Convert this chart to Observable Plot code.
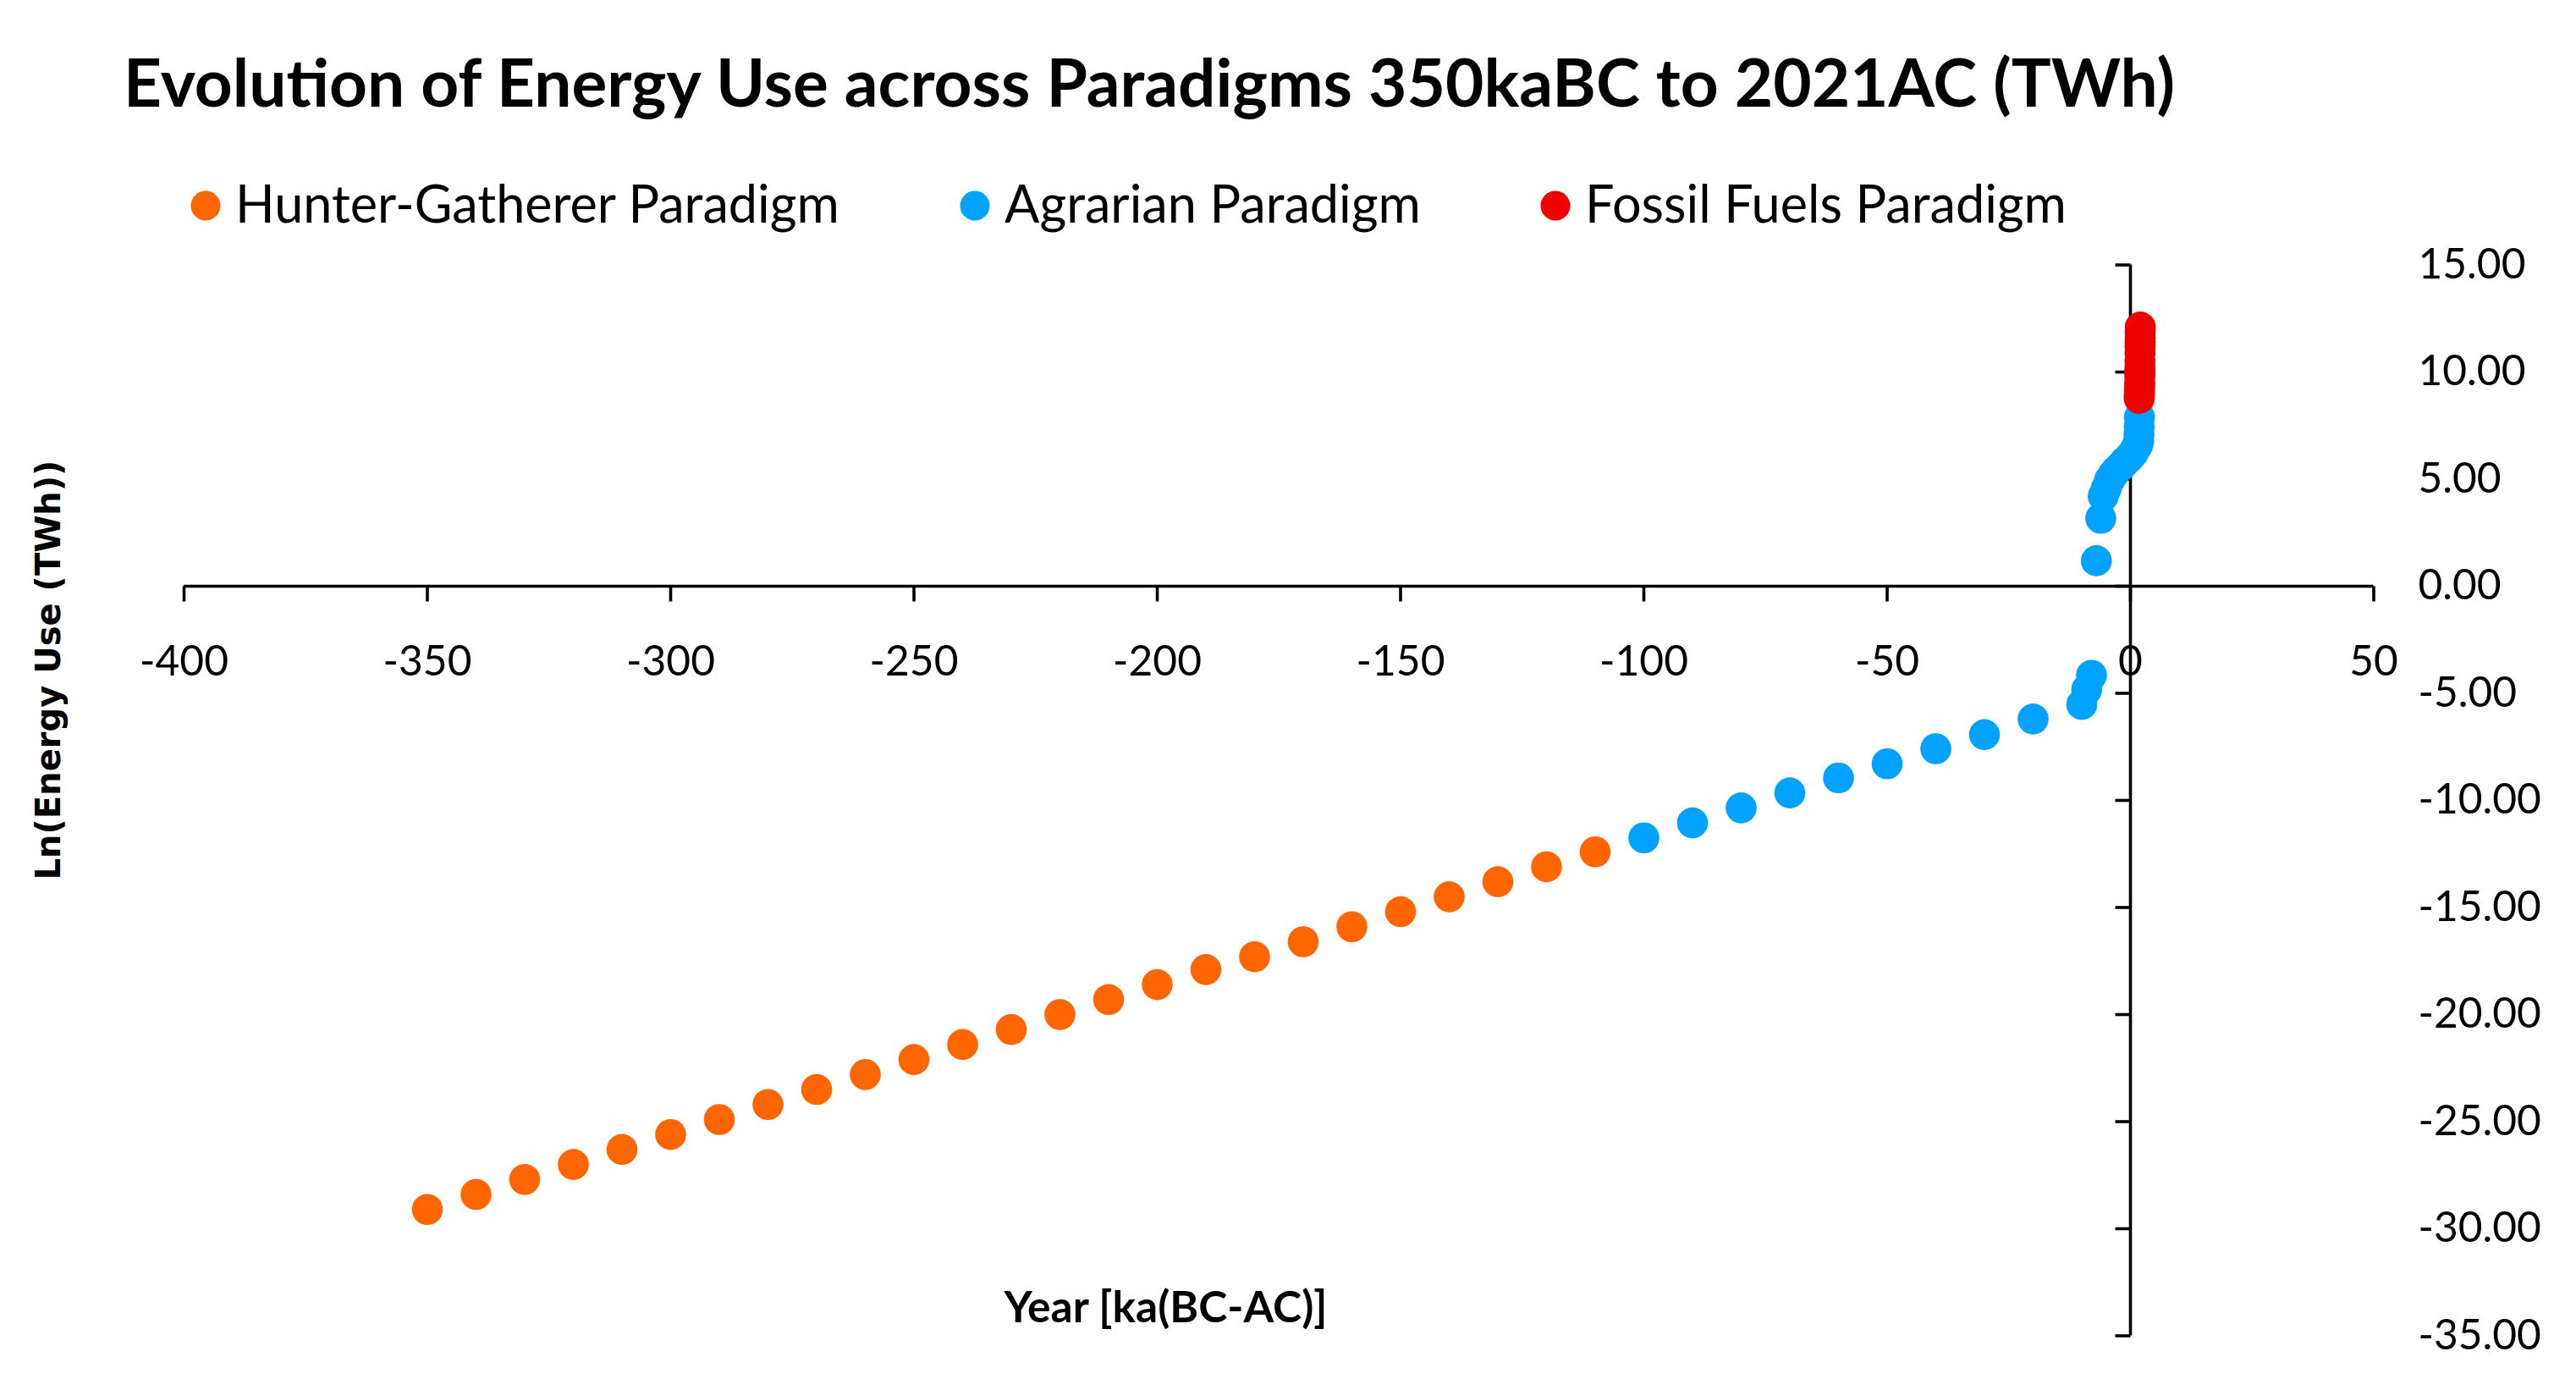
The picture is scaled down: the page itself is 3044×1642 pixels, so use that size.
<!DOCTYPE html>
<html>
<head>
<meta charset="utf-8">
<script src="https://cdn.jsdelivr.net/npm/d3@7"></script>
<script src="https://cdn.jsdelivr.net/npm/@observablehq/plot@0.6"></script>
<style>
  html, body { margin: 0; padding: 0; background: #fff; }
  svg { display: block; }
</style>
</head>
<body>
<div id="chart"></div>
<script>
// ---------------- DATA ----------------
const titleText = "Evolution of Energy Use across Paradigms 350kaBC to 2021AC (TWh)";
const xTitle = "Year [ka(BC-AC)]";
const yTitle = "Ln(Energy Use (TWh))";

const series = ["Hunter-Gatherer Paradigm", "Agrarian Paradigm", "Fossil Fuels Paradigm"];
const seriesColors = ["#FF6600", "#00A2FF", "#EE0000"];

const xTicks = [-400, -350, -300, -250, -200, -150, -100, -50, 0, 50];
const yTicks = [15, 10, 5, 0, -5, -10, -15, -20, -25, -30, -35];

const hunterYear = [-350, -340, -330, -320, -310, -300, -290, -280, -270, -260, -250, -240, -230,
                    -220, -210, -200, -190, -180, -170, -160, -150, -140, -130, -120, -110];
const hunterLn = [-29.1, -28.4, -27.7, -27.0, -26.3, -25.6, -24.9, -24.2, -23.5, -22.8, -22.1, -21.4, -20.7,
                  -20.0, -19.3, -18.6, -17.9, -17.3, -16.6, -15.9, -15.2, -14.5, -13.8, -13.1, -12.4];

const agrarianYear = [-100, -90, -80, -70, -60, -50, -40, -30, -20, -10, -9, -8,
                      -7, -6.1, -5.6, -5, -4.3, -3.6, -2.9, -2, -1.2, -0.3, 0.5, 1, 1.5, 1.7, 1.75, 1.8, 1.85];
const agrarianLn = [-11.75, -11.05, -10.35, -9.65, -8.95, -8.29, -7.59, -6.93, -6.2, -5.52, -4.83, -4.16,
                    1.19, 3.17, 4.2, 4.55, 4.95, 5.2, 5.4, 5.6, 5.8, 6.0, 6.2, 6.4, 6.6, 6.8, 7.1, 7.45, 7.9];

const fossilYear = [1.80, 1.82, 1.84, 1.86, 1.88, 1.90, 1.92, 1.94, 1.95, 1.96, 1.97, 1.98, 1.99, 2.00, 2.01, 2.021];
const fossilLn = [8.77, 8.85, 8.95, 9.1, 9.3, 9.5, 9.8, 10.0, 10.2, 10.5, 10.9, 11.2, 11.4, 11.6, 11.9, 12.1];

// ---------------- LAYOUT ----------------
const W = 3044, PAGE_H = 1642, HEADER_H = 280;
const H = PAGE_H - HEADER_H;
const FRAME = {left: 217, right: 2804.5, top: 312.5, bottom: 1577.5}; // page px
const marginLeft = FRAME.left, marginRight = W - FRAME.right;
const marginTop = FRAME.top - HEADER_H, marginBottom = PAGE_H - FRAME.bottom;

const measure = (() => {
  const c = document.createElement("canvas").getContext("2d");
  return (text, font) => { c.font = font; return c.measureText(text).width; };
})();
const fitSize = (text, weight, family, target) => 100 * target / measure(text, `${weight} 100px ${family}`);

const titleSize = fitSize(titleText, 700, "Lato", 2428);
const legendWidths = [717, 494, 565];
const legendSize = d3.mean(series, (s, i) => fitSize(s, 400, "Lato", legendWidths[i]));
const tickFont = fitSize("15.00", 400, "Lato", 127);
const xTitleSize = fitSize(xTitle, 700, "Lato", 383);
const yTitleSize = fitSize(yTitle, 700, "'DejaVu Sans'", 496);

// ---------------- HEADER (title + legend) ----------------
const header = d3.create("svg").attr("width", W).attr("height", HEADER_H)
  .attr("font-family", "Lato").attr("fill", "#000");
header.append("text").attr("x", 146).attr("y", 126)
  .attr("font-weight", 700).attr("font-size", titleSize).text(titleText);
const legendMarkX = [243, 1152, 1838];
series.forEach((s, i) => {
  header.append("circle").attr("cx", legendMarkX[i]).attr("cy", 243).attr("r", 17.5).attr("fill", seriesColors[i]);
  header.append("text").attr("x", legendMarkX[i] + 35).attr("y", 263)
    .attr("font-size", legendSize).text(s);
});

// ---------------- PLOT ----------------
const data = [
  ...hunterYear.map((x, i) => ({series: series[0], year: x, ln: hunterLn[i]})),
  ...agrarianYear.map((x, i) => ({series: series[1], year: x, ln: agrarianLn[i]})),
  ...fossilYear.map((x, i) => ({series: series[2], year: x, ln: fossilLn[i]}))
];

const TICK = 18, AXIS_W = 3.6;
const tickDown = {draw(ctx) { ctx.moveTo(0, 0); ctx.lineTo(0, TICK); }};
const tickLeft = {draw(ctx) { ctx.moveTo(0, 0); ctx.lineTo(-TICK, 0); }};

// axis-title targets (page px, centre of text)
const xTitlePos = {x: 1377, y: 1545};
const yTitlePos = {x: 58, y: 791};
const frameCx = (FRAME.left + FRAME.right) / 2, frameCy = (FRAME.top + FRAME.bottom) / 2;

const plot = Plot.plot({
  width: W,
  height: H,
  marginLeft, marginRight, marginTop, marginBottom,
  x: {domain: [-400, 50], axis: null},
  y: {domain: [-35, 15], axis: null},
  color: {domain: series, range: seriesColors},
  style: {background: "#fff", color: "#000", fontFamily: "Lato"},
  marks: [
    Plot.ruleY([0], {stroke: "#000", strokeWidth: AXIS_W}),
    Plot.ruleX([0], {stroke: "#000", strokeWidth: AXIS_W}),
    Plot.dot(xTicks, {x: d => d, y: () => 0, symbol: tickDown, stroke: "#000", fill: "none", strokeWidth: AXIS_W}),
    Plot.dot(yTicks, {x: () => 0, y: d => d, symbol: tickLeft, stroke: "#000", fill: "none", strokeWidth: AXIS_W}),
    Plot.text(xTicks, {x: d => d, y: () => 0, text: d => String(d), dy: 90,
      fontSize: tickFont, fontFamily: "Lato", lineAnchor: "middle", fill: "#000"}),
    Plot.text(yTicks, {y: d => d, frameAnchor: "right", dx: 52.5, textAnchor: "start",
      text: d => d.toFixed(2), fontSize: tickFont, fontFamily: "Lato", lineAnchor: "middle", fill: "#000"}),
    Plot.dot(data, {x: "year", y: "ln", fill: "series", r: 18.3}),
    Plot.text([xTitle], {frameAnchor: "bottom", text: d => d, textAnchor: "middle", lineAnchor: "middle",
      dx: xTitlePos.x - frameCx, dy: xTitlePos.y - FRAME.bottom,
      fontSize: xTitleSize, fontWeight: 700, fontFamily: "Lato", fill: "#000"}),
    Plot.text([yTitle], {frameAnchor: "left", text: d => d, rotate: -90, textAnchor: "middle", lineAnchor: "middle",
      dx: yTitlePos.x - FRAME.left, dy: yTitlePos.y - frameCy,
      fontSize: yTitleSize, fontWeight: 700, fontFamily: "DejaVu Sans", fill: "#000"})
  ]
});

const chart = document.getElementById("chart");
chart.append(header.node());
chart.append(plot);
</script>
</body>
</html>
